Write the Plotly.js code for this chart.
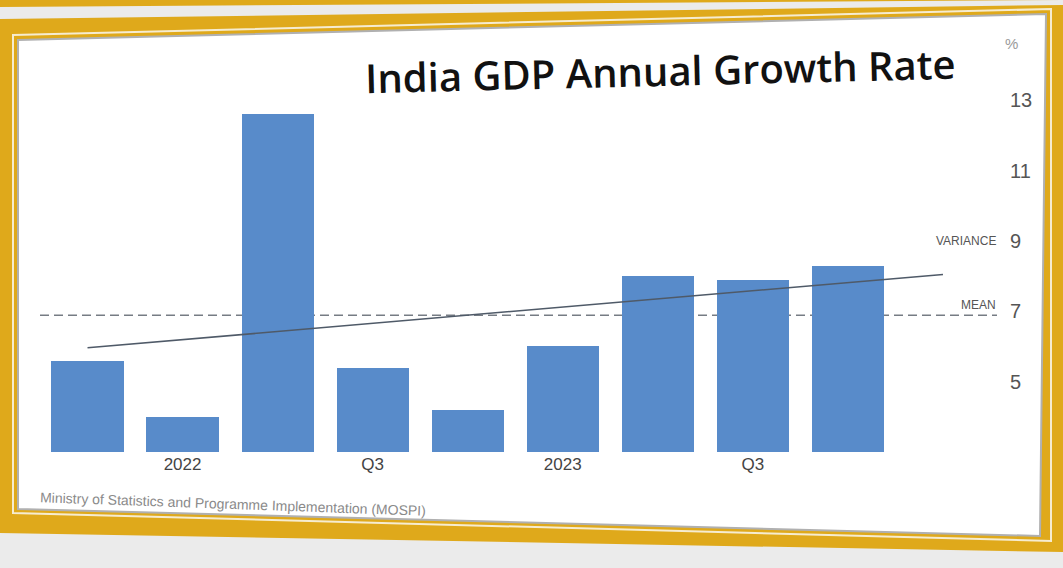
<!DOCTYPE html>
<html><head><meta charset="utf-8">
<script src="https://cdn.plot.ly/plotly-3.0.1.min.js"></script>
<style>html,body{margin:0;padding:0;background:#ebebeb;overflow:hidden}#chart{width:1063px;height:568px}</style>
</head><body><div id="chart"></div>
<script>
// ---- data ----
const quarters = ['2021 Q4','2022 Q1','2022 Q2','2022 Q3','2022 Q4','2023 Q1','2023 Q2','2023 Q3','2023 Q4'];
const growth   = [5.6, 4.0, 12.6, 5.4, 4.2, 6.0, 8.0, 7.9, 8.3];
const labelQuarters = ['2022 Q1','2022 Q3','2023 Q1','2023 Q3'];
const labelText     = ['2022','Q3','2023','Q3'];
const yTickValues   = [5, 7, 9, 11, 13];
const titleText  = 'India GDP Annual Growth Rate';
const sourceText = 'Ministry of Statistics and Programme Implementation (MOSPI)';

// ---- geometry helpers ----
const W = 1063, H = 568, L = 40, R = 63, T = 58, B = 116;
const PW = W - L - R, PH = H - T - B;
const px = x => (x - L) / PW;
const py = y => (H - B - y) / PH;
function poly(pts) {
  return pts.map((p, i) => (i ? 'L' : 'M') + px(p[0]).toFixed(5) + ',' + py(p[1]).toFixed(5)).join(' ') + ' Z';
}

// ---- statistics from the data ----
const idx = quarters.map((_, i) => i);
const n = growth.length;
const mean = growth.reduce((a, b) => a + b, 0) / n;
const mx = idx.reduce((a, b) => a + b, 0) / n;
let sxy = 0, sxx = 0;
idx.forEach((x, i) => { sxy += (x - mx) * (growth[i] - mean); sxx += (x - mx) * (x - mx); });
const slope = sxy / sxx, icpt = mean - slope * mx;
const trendX = [0, n - 1 + 1.0];
const trendY = trendX.map(x => icpt + slope * x);
const tickVals = labelQuarters.map(q => quarters.indexOf(q));

const gold = '#dfa91b';
const traces = [
  { type: 'bar', x: idx, y: growth, width: 0.76,
    marker: { color: '#588bca', line: { width: 0 } }, hoverinfo: 'none' },
  { type: 'scatter', mode: 'lines', x: trendX, y: trendY,
    line: { color: '#4f5a68', width: 1.6 }, hoverinfo: 'none' }
];

const shapes = [
  { type: 'path', xref: 'paper', yref: 'paper', layer: 'below', path: poly([[0,0],[1063,0],[0,7]]), fillcolor: gold, line: { width: 0 } },
  { type: 'path', xref: 'paper', yref: 'paper', layer: 'below', path: poly([[0,19],[1063,5],[1063,552],[0,533]]), fillcolor: gold, line: { width: 0 } },
  { type: 'path', xref: 'paper', yref: 'paper', layer: 'below', path: poly([[13,35],[1051,9],[1051,541],[13,513]]), fillcolor: 'rgba(0,0,0,0)', line: { color: '#f6ecd0', width: 2 } },
  { type: 'path', xref: 'paper', yref: 'paper', layer: 'below', path: poly([[18,40],[1046,14],[1040,536],[18,509]]), fillcolor: '#ffffff', line: { color: '#b0b0b0', width: 2 } },
  { type: 'line', xref: 'paper', yref: 'y', layer: 'below', x0: px(40), x1: px(997), y0: mean, y1: mean,
    line: { color: '#767c84', width: 1.5, dash: '9px,5px' } }
];

const annotations = [
  { text: titleText, xref: 'paper', yref: 'paper', x: px(660), y: py(70), showarrow: false, textangle: -1.4,
    xanchor: 'center', yanchor: 'middle',
    font: { family: 'Open Sans, sans-serif', size: 40, weight: 600, color: '#111111' } },
  { text: sourceText, xref: 'paper', yref: 'paper', x: px(233), y: py(504), showarrow: false, textangle: 2,
    xanchor: 'center', yanchor: 'middle',
    font: { family: 'Liberation Sans, Arial, sans-serif', size: 14, color: '#8a8a8a' } },
  { text: '%', xref: 'paper', yref: 'paper', x: px(1020), y: py(33), showarrow: false,
    font: { family: 'Liberation Sans, Arial, sans-serif', size: 15, color: '#9a9a9a' } },
  { text: 'VARIANCE', xref: 'paper', yref: 'y', x: px(998), y: 9, xanchor: 'right', yanchor: 'middle', showarrow: false,
    font: { family: 'Liberation Sans, Arial, sans-serif', size: 12, color: '#555' } },
  { text: 'MEAN', xref: 'paper', yref: 'y', x: px(998), y: mean, yshift: 10, xanchor: 'right', yanchor: 'middle', showarrow: false,
    font: { family: 'Liberation Sans, Arial, sans-serif', size: 12, color: '#555' } }
];

const layout = {
  width: W, height: H,
  margin: { l: L, r: R, t: T, b: B, pad: 0 },
  paper_bgcolor: '#ebebeb', plot_bgcolor: 'rgba(0,0,0,0)',
  showlegend: false, bargap: 0,
  xaxis: { range: [-0.5, 9.6], tickvals: tickVals, ticktext: labelText, showgrid: false, zeroline: false,
    showline: false, ticks: '', fixedrange: true, automargin: false,
    tickfont: { family: 'Liberation Sans, Arial, sans-serif', size: 17, color: '#444' } },
  yaxis: { side: 'right', range: [3, 14.2], tickvals: yTickValues, showgrid: false, zeroline: false,
    showline: false, ticks: '', fixedrange: true, automargin: false, ticklabelstandoff: 9,
    tickfont: { family: 'Liberation Sans, Arial, sans-serif', size: 20, color: '#555' } },
  shapes: shapes, annotations: annotations
};

Plotly.newPlot('chart', traces, layout, { displayModeBar: false, staticPlot: true });
</script></body></html>
